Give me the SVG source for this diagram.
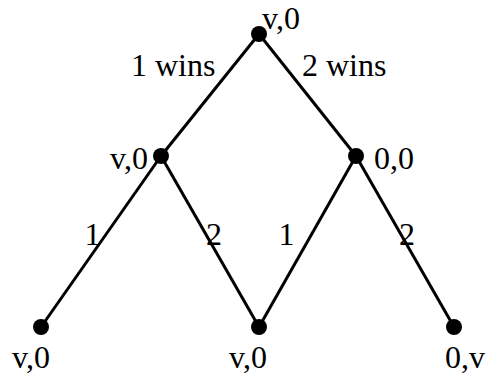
<svg xmlns="http://www.w3.org/2000/svg" width="487" height="374" viewBox="0 0 487 374">
<style>
.e{stroke:#000;stroke-width:3;fill:none}
.n{fill:#000}
text{font-family:"Liberation Serif","Times New Roman",serif;font-size:32px;fill:#000}
</style>
<rect width="487" height="374" fill="#fff"/>
<g id="edges">
<line class="e" x1="259" y1="34" x2="161" y2="156"/>
<line class="e" x1="259" y1="34" x2="356" y2="156"/>
<line class="e" x1="161" y1="156" x2="41" y2="327"/>
<line class="e" x1="161" y1="156" x2="259" y2="327"/>
<line class="e" x1="356" y1="156" x2="259" y2="327"/>
<line class="e" x1="356" y1="156" x2="454" y2="327"/>
<text x="131" y="76">1 wins</text>
<text x="302" y="76">2 wins</text>
<text x="84.5" y="245">1</text>
<text x="206" y="245">2</text>
<text x="278.5" y="245">1</text>
<text x="399" y="245">2</text>
</g>
<g id="root"><circle class="n" cx="259" cy="34" r="8"/><text x="262" y="28.5">v,0</text></g>
<g id="mid-left"><circle class="n" cx="161" cy="156" r="8"/><text x="110" y="169">v,0</text></g>
<g id="mid-right"><circle class="n" cx="356" cy="156" r="8"/><text x="374" y="169">0,0</text></g>
<g id="leaf-1"><circle class="n" cx="41" cy="327" r="8"/><text x="12" y="368">v,0</text></g>
<g id="leaf-2"><circle class="n" cx="259" cy="327" r="8"/><text x="229" y="368">v,0</text></g>
<g id="leaf-3"><circle class="n" cx="454" cy="327" r="8"/><text x="445" y="368">0,v</text></g>
</svg>
